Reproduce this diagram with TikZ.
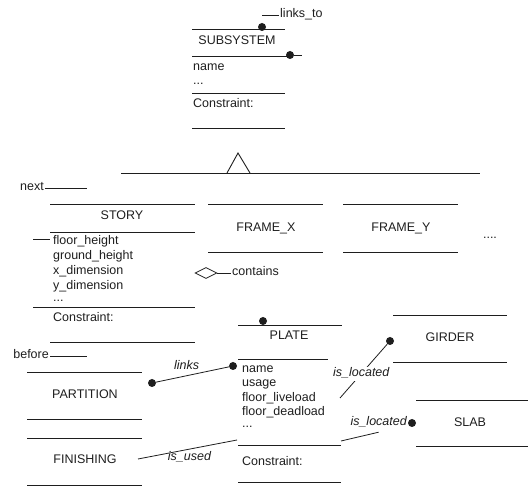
\documentclass[tikz,border=0pt]{standalone}
\usepackage{fontspec}
\setmainfont{Liberation Sans}
\usetikzlibrary{shapes.geometric, positioning}
\definecolor{ink}{RGB}{30,30,30}
\tikzset{
  txt/.style={inner sep=0pt, text height=9pt, text depth=3pt, font=\fontsize{12.5}{15}\selectfont, text=ink},
  lbl/.style={txt, font=\fontsize{12.5}{15}\selectfont\itshape},
  bar/.style={draw=ink, line width=0.9pt},
  link/.style={draw=ink, line width=0.8pt},
  dot/.style={circle, fill=ink, inner sep=0pt, minimum size=8pt}
}

\begin{document}
\begin{tikzpicture}[x=1pt, y=-1pt,
  cls/.style={txt, anchor=center},
  attr/.style={txt, anchor=west}
]
\useasboundingbox (0,0) rectangle (528,486);

% SUBSYSTEM class
\draw[bar] (192,29) -- (285,29);
\node[dot] (subtop) at (262,27) {};
\coordinate (ltstart) at (262,15);
\node[attr] (linksto) at (280,15) {links\_to};
\draw[link, shorten >=1pt] (ltstart) -- (linksto.west);
\node[cls] (subsys) at (237,42) {SUBSYSTEM};
\draw[bar] (192,56) -- (287,56);
\node[dot] (subside) at (290,55) {};
\coordinate (subend) at (302,55);
\draw[link] (subside) -- (subend);
\node[attr] (subname) at (193,68) {name};
\node[attr] (subetc)  at (193,82) {...};
\draw[bar] (192,93) -- (285,93);
\node[attr] (subcon)  at (193,105) {Constraint:};
\draw[bar] (192,128) -- (285,128);

% generalization
\draw[bar] (121,173) -- (480,173);
\draw[bar] (227,173) -- (238,153) -- (250,173);

% STORY class
\node[txt, anchor=east] (next) at (44,188) {next};
\coordinate (nextend) at (87,188);
\draw[link, shorten <=1pt] (next.east) -- (nextend);
\draw[bar] (50,204) -- (195,204);
\node[cls] (story) at (122,217) {STORY};
\draw[bar] (50,232) -- (195,232);
\draw[link] (33,239) -- (50,239);
\node[attr] (sfh) at (53,242) {floor\_height};
\node[attr] (sgh) at (53,257) {ground\_height};
\node[attr] (sxd) at (53,272) {x\_dimension};
\node[attr] (syd) at (53,287) {y\_dimension};
\node[attr] (setc) at (53,299) {...};
\draw[bar] (33,307) -- (195,307);
\node[attr] (scon) at (53,319) {Constraint:};
\draw[bar] (50,342) -- (195,342);

% FRAME_X and FRAME_Y
\draw[bar] (208,204) -- (323,204);
\node[cls] (framex) at (266,229) {FRAME\_X};
\draw[bar] (208,252) -- (323,252);
\draw[bar] (343,204) -- (458,204);
\node[cls] (framey) at (401,229) {FRAME\_Y};
\draw[bar] (343,252) -- (458,252);
\node[cls] (more) at (490,236) {....};

% aggregation
\node[diamond, draw=ink, line width=0.8pt, minimum width=22pt, minimum height=11pt, inner sep=0pt] (contdia) at (206,273) {};
\node[attr] (contains) at (232,273) {contains};
\draw[link, shorten >=1pt] (contdia.east) -- (contains.west);

% PARTITION and FINISHING
\node[txt, anchor=east] (before) at (49,356) {before};
\coordinate (beforeend) at (87,356);
\draw[link, shorten <=1pt] (before.east) -- (beforeend);
\draw[bar] (27,372) -- (142,372);
\node[cls] (partition) at (85,396) {PARTITION};
\draw[bar] (27,419) -- (142,419);
\node[dot] (partdot) at (152,383) {};
\draw[bar] (27,438) -- (142,438);
\node[cls] (finishing) at (85,461) {FINISHING};
\draw[bar] (27,485) -- (142,485);

% PLATE class
\draw[bar] (238,325) -- (342,325);
\node[dot] (platetop) at (263,321) {};
\node[cls] (plate) at (289,337) {PLATE};
\draw[bar] (238,359) -- (328,359);
\node[dot] (platedot) at (233,366) {};
\node[attr] (pname) at (242,370) {name};
\node[attr] (puse)  at (242,384) {usage};
\node[attr] (pfl)   at (242,399) {floor\_liveload};
\node[attr] (pfd)   at (242,413) {floor\_deadload};
\node[attr] (petc)  at (242,425) {...};
\draw[bar] (238,445) -- (341,445);
\node[attr] (pcon)  at (242,463) {Constraint:};
\draw[bar] (238,482) -- (341,482);

% GIRDER and SLAB
\draw[bar] (393,315) -- (507,315);
\node[cls] (girder) at (450,339) {GIRDER};
\draw[bar] (393,362) -- (507,362);
\node[dot] (girddot) at (390,341) {};
\draw[bar] (416,400) -- (528,400);
\node[cls] (slab) at (470,424) {SLAB};
\draw[bar] (416,446) -- (528,446);
\node[dot] (slabdot) at (412,423) {};

% associations
\coordinate (pgird) at (340,398);
\coordinate (pslab) at (341,441);
\coordinate (finend) at (138,459);
\coordinate (puse2) at (237,440);
\draw[link] (partdot) -- node[lbl, above=3pt, pos=0.42] {links} (platedot);
\draw[link] (pgird) -- node[lbl, fill=white, inner sep=1pt, pos=0.45] {is\_located} (girddot);
\node[lbl, anchor=east] (slablbl) at (407,423) {is\_located};
\draw[link] (pslab) -- ([yshift=-3pt]slablbl.south);
\draw[link] (finend) -- node[lbl, below=2pt, pos=0.52] {is\_used} (puse2);
\end{tikzpicture}
\end{document}
